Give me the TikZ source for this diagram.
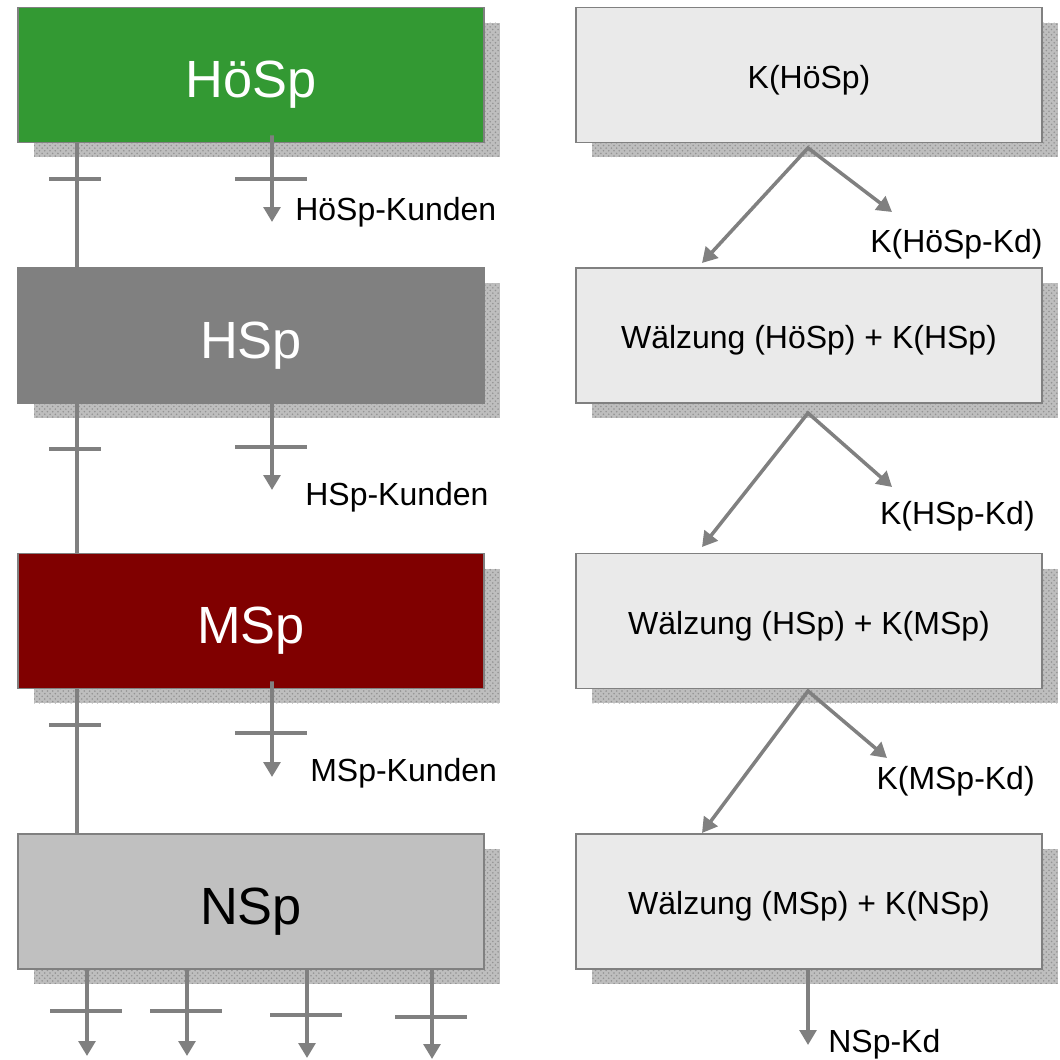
\documentclass[tikz,border=0pt]{standalone}
\usepackage{fontspec}
\setmainfont{Liberation Sans}
\usepackage{tikz}
\usetikzlibrary{arrows.meta,shadows,patterns}

\definecolor{hoespgreen}{RGB}{51,153,51}
\definecolor{hspgray}{RGB}{128,128,128}
\definecolor{mspred}{RGB}{128,0,0}
\definecolor{nspgray}{RGB}{192,192,192}
\definecolor{kboxgray}{RGB}{234,234,234}
\definecolor{linegray}{RGB}{128,128,128}
\definecolor{shadowgray}{RGB}{190,190,190}

\newcommand{\bigtext}{\fontsize{29.8pt}{34pt}\selectfont}
\newcommand{\smalltext}{\fontsize{18.2pt}{22pt}\selectfont}
\newcommand{\lowered}[2]{\raisebox{-#1}[\height][\depth]{#2}}

\begin{document}
\begin{tikzpicture}[x=0.02cm, y=-0.02cm,
	stage/.style={draw=linegray, line width=1.1pt, minimum width=9.32cm, minimum height=2.7cm, inner sep=0pt,
		general shadow={fill=shadowgray, shadow xshift=0.32cm, shadow yshift=-0.3cm},
		general shadow={pattern=crosshatch dots, pattern color=gray!85, shadow xshift=0.32cm, shadow yshift=-0.3cm}},
	feed/.style={draw=linegray, line width=2pt},
	flow/.style={feed, -{Triangle[width=9.5pt, length=8.5pt]}},
	lbl/.style={inner sep=0pt, font=\smalltext}]
			\useasboundingbox (0,0) rectangle (1059,1060);
			\node[stage, fill=hoespgreen, text=white, font=\bigtext] (hoesp) at (251,75) {\lowered{5.4pt}{HöSp}};
			\node[stage, fill=hspgray, text=white, font=\bigtext] (hsp) at (251,335.5) {\lowered{5.7pt}{HSp}};
			\node[stage, fill=mspred, text=white, font=\bigtext] (msp) at (251,621) {\lowered{5.7pt}{MSp}};
			\node[stage, fill=nspgray, font=\bigtext] (nsp) at (251,901.5) {\lowered{5.7pt}{NSp}};
			\node[stage, fill=kboxgray, font=\smalltext] (khoesp) at (809,75) {\lowered{2.8pt}{K(HöSp)}};
			\node[stage, fill=kboxgray, font=\smalltext] (whsp) at (809,335.5) {\lowered{2.8pt}{Wälzung (HöSp) + K(HSp)}};
			\node[stage, fill=kboxgray, font=\smalltext] (wmsp) at (809,621) {\lowered{2.8pt}{Wälzung (HSp) + K(MSp)}};
			\node[stage, fill=kboxgray, font=\smalltext] (wnsp) at (809,901.5) {\lowered{2.8pt}{Wälzung (MSp) + K(NSp)}};
			\foreach \a/\b/\t in {hoesp/hsp/179, hsp/msp/449, msp/nsp/725} {
			\draw[feed] ([xshift=-3.48cm]\a.south) -- ([xshift=-3.48cm]\b.north);
			\draw[feed] (49,\t) -- (101,\t);
			}
			\foreach \a/\t/\e/\lx/\ly/\txt in {hoesp/179/222/295/212/HöSp-Kunden, hsp/447/490/305/497/HSp-Kunden, msp/733/777/310/773/MSp-Kunden} {
			\coordinate (\a-kd) at (272,\e);
			\draw[flow] ([xshift=0.42cm, yshift=0.16cm]\a.south) -- (\a-kd);
			\draw[feed] (235,\t) -- (307,\t);
			\node[lbl, anchor=west] (\a-lbl) at (\lx,\ly) {\txt};
			}
			\foreach \a/\ay/\b/\ly/\rx/\ry/\kx/\ky/\txt in {khoesp/148/whsp/263/892/212/1043/244/K(HöSp-Kd), whsp/413/wmsp/547/892/487/1035/516/K(HSp-Kd), wmsp/691/wnsp/833/887/758/1035/781/K(MSp-Kd)} {
			\coordinate (\a-top) at (808,\ay);
			\coordinate (\a-left) at (702,\ly);
			\coordinate (\a-right) at (\rx,\ry);
			\draw[feed, {Triangle[width=9.5pt, length=8.5pt]}-{Triangle[width=9.5pt, length=8.5pt]}] (\a-left) -- (\a-top) -- (\a-right);
			\node[lbl, anchor=east] (\a-lbl) at (\kx,\ky) {\txt};
			}
			\foreach \x/\t/\e in {87/1011/1056, 187/1011/1056, 307/1015/1058, 432/1017/1059} {
			\coordinate (nsp-kd\x) at (\x,\e);
			\draw[flow] (nsp.south -| nsp-kd\x) -- (nsp-kd\x);
			\draw[feed] (\x-37,\t) -- ++(72,0);
			}
			\coordinate (wnsp-kd) at (808,1045);
			\draw[flow] (wnsp.south -| wnsp-kd) -- (wnsp-kd);
			\node[lbl, anchor=west] (nspkd) at (828,1044) {NSp-Kd};
		\end{tikzpicture}
\end{document}
